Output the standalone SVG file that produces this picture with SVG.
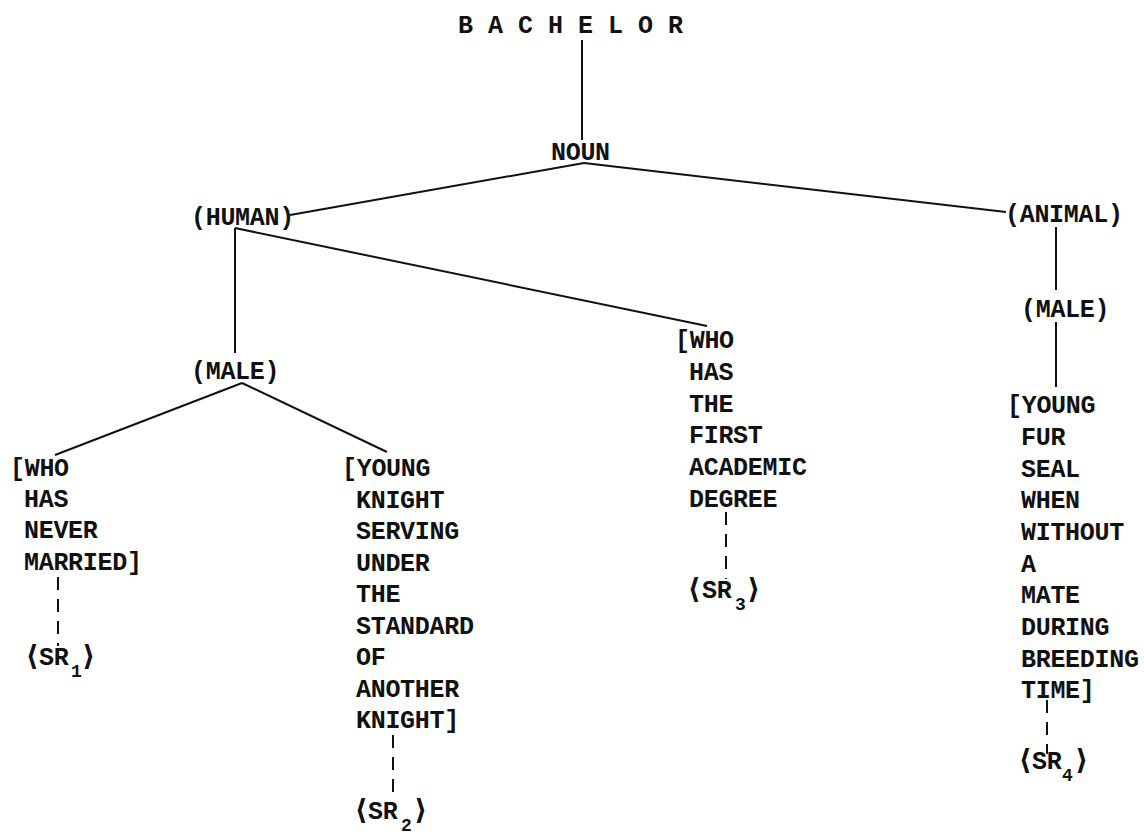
<svg xmlns="http://www.w3.org/2000/svg" width="1144" height="835" viewBox="0 0 1144 835">
<style>
text{font-family:"Liberation Mono","DejaVu Sans Mono",monospace;font-weight:bold;font-size:25px;fill:#111;letter-spacing:-0.3px}
.sub{font-size:18px}
.ab{font-family:"DejaVu Sans Mono","Liberation Mono",monospace;font-weight:bold;font-size:28px}
.edge{stroke:#111;stroke-width:2;fill:none}
.dash{stroke:#111;stroke-width:2;fill:none;stroke-dasharray:13 9}
</style>
<rect width="1144" height="835" fill="#fff"/>
<g id="connectors">
<line class="edge" x1="582" y1="40" x2="582" y2="140"/>
<line class="edge" x1="584" y1="163" x2="290" y2="215"/>
<line class="edge" x1="584" y1="163" x2="1006" y2="212"/>
<line class="edge" x1="235" y1="228" x2="235" y2="353"/>
<line class="edge" x1="235" y1="228" x2="707" y2="326"/>
<line class="edge" x1="242" y1="383" x2="55" y2="455"/>
<line class="edge" x1="242" y1="383" x2="387" y2="452"/>
<line class="edge" x1="1056" y1="227" x2="1056" y2="290"/>
<line class="edge" x1="1056" y1="322" x2="1056" y2="387"/>
<line class="dash" x1="58" y1="577" x2="58" y2="646"/>
<line class="dash" x1="393" y1="735" x2="393" y2="801"/>
<line class="dash" x1="726" y1="512" x2="726" y2="579"/>
<line class="dash" x1="1047" y1="700" x2="1047" y2="754"/>
</g>
<g id="bachelor"><text x="458" y="33" style="letter-spacing:0">B A C H E L O R</text></g>
<g id="noun"><text x="551" y="160">NOUN</text></g>
<g id="human"><text x="191" y="225">(HUMAN)</text></g>
<g id="animal"><text x="1005" y="222">(ANIMAL)</text></g>
<g id="male1"><text x="191" y="379">(MALE)</text></g>
<g id="male2"><text x="1021" y="317">(MALE)</text></g>
<g id="sense1">
<text x="10" y="476">[WHO</text>
<text x="24" y="507">HAS</text>
<text x="24" y="538">NEVER</text>
<text x="24" y="570">MARRIED]</text>
</g>
<g id="sense2">
<text x="342" y="476">[YOUNG</text>
<text x="356" y="507.5">KNIGHT</text>
<text x="356" y="539">SERVING</text>
<text x="356" y="570.5">UNDER</text>
<text x="356" y="602">THE</text>
<text x="356" y="633.5">STANDARD</text>
<text x="356" y="665">OF</text>
<text x="356" y="696.5">ANOTHER</text>
<text x="356" y="728">KNIGHT]</text>
</g>
<g id="sense3">
<text x="675" y="348">[WHO</text>
<text x="689" y="380">HAS</text>
<text x="689" y="411.5">THE</text>
<text x="689" y="443">FIRST</text>
<text x="689" y="475">ACADEMIC</text>
<text x="689" y="507">DEGREE</text>
</g>
<g id="sense4">
<text x="1007" y="413">[YOUNG</text>
<text x="1021" y="445">FUR</text>
<text x="1021" y="476.5">SEAL</text>
<text x="1021" y="508">WHEN</text>
<text x="1021" y="540">WITHOUT</text>
<text x="1021" y="571.5">A</text>
<text x="1021" y="603">MATE</text>
<text x="1021" y="635">DURING</text>
<text x="1021" y="666.5">BREEDING</text>
<text x="1021" y="698">TIME]</text>
</g>
<g id="sr1"><text y="665"><tspan class="ab" x="24">⟨</tspan><tspan x="39">SR</tspan><tspan class="sub" x="71" dy="12">1</tspan><tspan class="ab" x="80" dy="-12">⟩</tspan></text></g>
<g id="sr2"><text y="819"><tspan class="ab" x="353">⟨</tspan><tspan x="368">SR</tspan><tspan class="sub" x="401" dy="12">2</tspan><tspan class="ab" x="412" dy="-12">⟩</tspan></text></g>
<g id="sr3"><text y="598"><tspan class="ab" x="686">⟨</tspan><tspan x="702">SR</tspan><tspan class="sub" x="735" dy="12">3</tspan><tspan class="ab" x="745" dy="-12">⟩</tspan></text></g>
<g id="sr4"><text y="769"><tspan class="ab" x="1017">⟨</tspan><tspan x="1032">SR</tspan><tspan class="sub" x="1062" dy="12">4</tspan><tspan class="ab" x="1073" dy="-12">⟩</tspan></text></g>
</svg>
